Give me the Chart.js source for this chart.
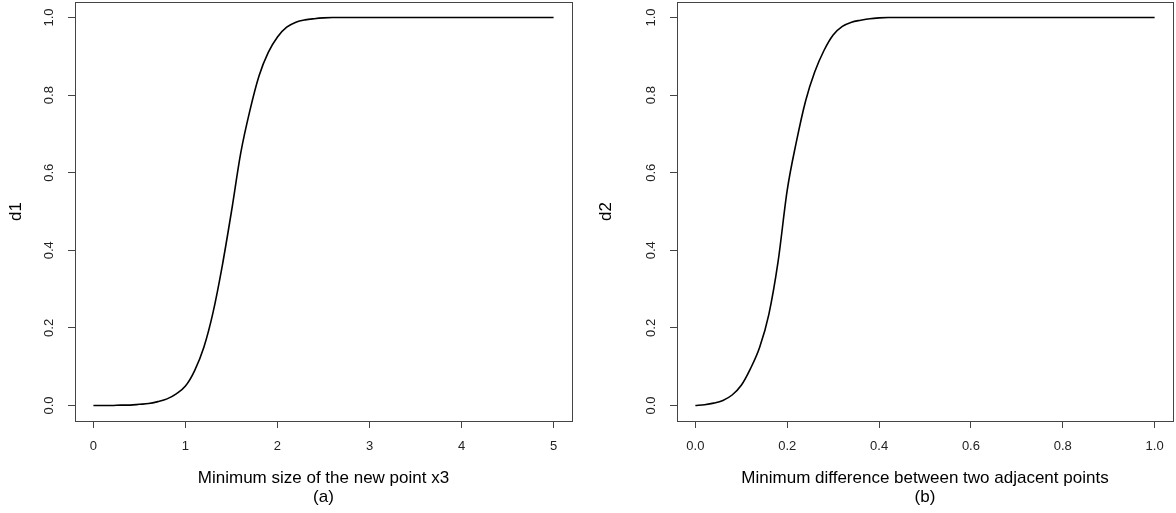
<!DOCTYPE html>
<html>
<head>
<meta charset="utf-8">
<title>d1 / d2</title>
<script src="https://cdn.jsdelivr.net/npm/chart.js@4/dist/chart.umd.min.js"></script>
<style>
  body { margin: 0; background: #fff; }
  #wrap { position: relative; width: 1176px; height: 513px; }
  .panel { position: absolute; top: 0; height: 513px; }
  #pa { left: 0; width: 590px; }
  #pb { left: 590px; width: 586px; }
</style>
</head>
<body>
<div id="wrap">
  <div class="panel" id="pa"><canvas id="chartA"></canvas></div>
  <div class="panel" id="pb"><canvas id="chartB"></canvas></div>
</div>
<script>
'use strict';

// panel (a): d1 against minimum size of the new point x3
let sizeX = [0, 0.1, 0.2, 0.3, 0.4, 0.5, 0.6, 0.7, 0.8, 0.9, 1.0, 1.1, 1.2, 1.3, 1.4,
    1.5, 1.6, 1.7, 1.8, 1.9, 2.0, 2.1, 2.2, 2.3, 2.4, 2.5, 2.6, 5.0];
let d1 = [0, 0, 0, 0.001, 0.001, 0.003, 0.005, 0.010, 0.017, 0.030, 0.050, 0.090, 0.150, 0.240, 0.360,
    0.500, 0.650, 0.760, 0.850, 0.910, 0.950, 0.975, 0.988, 0.994, 0.997, 0.999, 1.000, 1.000];

// panel (b): d2 against minimum difference between two adjacent points
let diffX = [0, 0.02, 0.04, 0.06, 0.08, 0.10, 0.12, 0.14, 0.16, 0.18, 0.20, 0.22,
    0.24, 0.26, 0.28, 0.30, 0.32, 0.34, 0.36, 0.38, 0.40, 0.42, 1.00];
let d2 = [0, 0.002, 0.006, 0.013, 0.027, 0.052, 0.095, 0.150, 0.235, 0.370, 0.555, 0.680,
    0.785, 0.860, 0.915, 0.955, 0.977, 0.988, 0.993, 0.997, 0.999, 1.000, 1.000];

let ticksA = [0, 1, 2, 3, 4, 5];
let ticksB = [0, 0.2, 0.4, 0.6, 0.8, 1.0];
let ticksY = [0, 0.2, 0.4, 0.6, 0.8, 1.0];

let ink = '#222';
let frame = '#444';
let fontName = "'Liberation Sans', Arial, sans-serif";

// R style box round the plot region
let boxPlugin = {
    id: 'box',
    afterDraw(chart) {
        let a = chart.chartArea;
        let ctx = chart.ctx;
        ctx.save();
        ctx.strokeStyle = frame;
        ctx.lineWidth = 1;
        ctx.strokeRect(Math.round(a.left) + 0.5, Math.round(a.top) + 0.5,
            Math.round(a.right - a.left), Math.round(a.bottom - a.top));
        ctx.restore();
    }
};

function toPoints(xs, ys) {
    let pts = [];
    for (let i = 0; i < xs.length; i++) {
        pts.push({ x: xs[i], y: ys[i] });
    }
    return pts;
}

function makeChart(id, xs, ys, xTicks, xMax, xDigits, xTitle, yTitle, yWidth, padRight) {
    let span = xMax * 0.04;
    return new Chart(document.getElementById(id), {
        type: 'line',
        data: {
            datasets: [{
                data: toPoints(xs, ys),
                borderColor: '#000',
                borderWidth: 1.6,
                pointRadius: 0,
                cubicInterpolationMode: 'monotone',
                fill: false
            }]
        },
        options: {
            responsive: true,
            maintainAspectRatio: false,
            animation: false,
            events: [],
            layout: { padding: { left: 0, right: padRight, top: 2, bottom: 0 } },
            plugins: { legend: { display: false }, tooltip: { enabled: false } },
            scales: {
                x: {
                    type: 'linear',
                    min: -span,
                    max: xMax + span,
                    afterBuildTicks(scale) {
                        scale.ticks = xTicks.map(v => ({ value: v }));
                    },
                    afterFit(scale) {
                        scale.height = 92;
                        scale.paddingLeft = 0;
                        scale.paddingRight = 0;
                    },
                    border: { display: false },
                    grid: { drawOnChartArea: false, drawTicks: true, tickLength: 7, color: frame },
                    ticks: {
                        color: ink,
                        padding: 11,
                        maxRotation: 0,
                        font: { family: fontName, size: 13 },
                        callback: v => v.toFixed(xDigits)
                    },
                    title: {
                        display: true,
                        text: xTitle,
                        color: '#000',
                        font: { family: fontName, size: 17, lineHeight: 1.12 },
                        padding: { top: 0, bottom: 6 }
                    }
                },
                y: {
                    type: 'linear',
                    min: -0.04,
                    max: 1.04,
                    afterBuildTicks(scale) {
                        scale.ticks = ticksY.map(v => ({ value: v }));
                    },
                    afterFit(scale) {
                        scale.width = yWidth;
                        scale.paddingTop = 0;
                        scale.paddingBottom = 0;
                    },
                    border: { display: false },
                    grid: { drawOnChartArea: false, drawTicks: true, tickLength: 7, color: frame },
                    ticks: {
                        color: ink,
                        padding: 10,
                        minRotation: 90,
                        maxRotation: 90,
                        crossAlign: 'center',
                        font: { family: fontName, size: 13 },
                        callback: v => v.toFixed(1)
                    },
                    title: {
                        display: true,
                        text: yTitle,
                        color: '#000',
                        font: { family: fontName, size: 17 },
                        padding: { top: 6, bottom: 0 }
                    }
                }
            }
        },
        plugins: [boxPlugin]
    });
}

makeChart('chartA', sizeX, d1, ticksA, 5, 0,
    ['Minimum size of the new point x3', '(a)'], 'd1', 75, 18);
makeChart('chartB', diffX, d2, ticksB, 1, 1,
    ['Minimum difference between two adjacent points', '(b)'], 'd2', 87, 3);
</script>
</body>
</html>
